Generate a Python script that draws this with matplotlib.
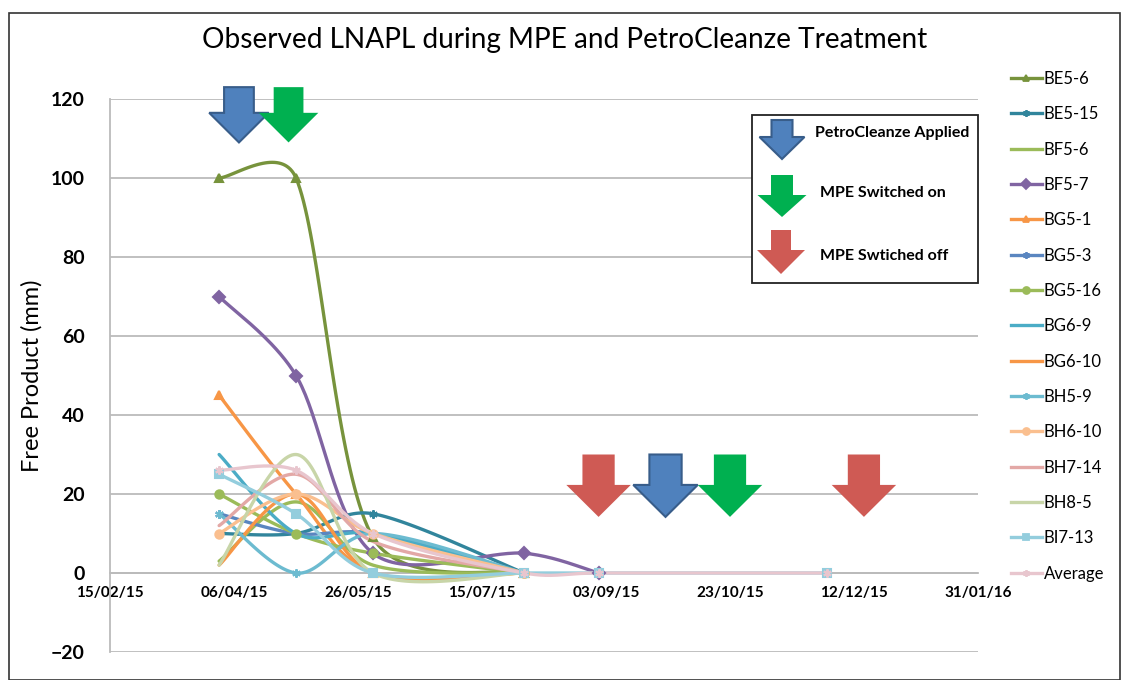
import numpy as np
import matplotlib.pyplot as plt
import matplotlib.dates as mdates
from matplotlib.patches import Polygon, Rectangle
from matplotlib.lines import Line2D

plt.rcParams['font.family'] = ['Lato', 'DejaVu Sans']

# sampling dates
dates = ['2015-03-31', '2015-05-01', '2015-06-01', '2015-08-01', '2015-08-31', '2015-12-01']

names = ['BE5-6', 'BE5-15', 'BF5-6', 'BF5-7', 'BG5-1', 'BG5-3', 'BG5-16', 'BG6-9',
         'BG6-10', 'BH5-9', 'BH6-10', 'BH7-14', 'BH8-5', 'BI7-13', 'Average']

# free product (mm) per well, one value per sampling date
be5_6 = [100, 100, 9, 0]
be5_15 = [10, 10, 15, 0]
bf5_6 = [3, 18, 2, 0]
bf5_7 = [70, 50, 5, 5, 0]
bg5_1 = [45, 20, 0, 0]
bg5_3 = [15, 10, 10, 0]
bg5_16 = [20, 10, 5, 0]
bg6_9 = [30, 10, 10, 0]
bg6_10 = [2, 20, 0, 0]
bh5_9 = [15, 0, 10, 0]
bh6_10 = [10, 20, 10, 0]
bh7_14 = [12, 25, 8, 0]
bh8_5 = [2, 30, 0, 0]
bi7_13 = [25, 15, 0, 0, 0, 0]
average = [26, 26, 10, 0, 0, 0]

values = [be5_6, be5_15, bf5_6, bf5_7, bg5_1, bg5_3, bg5_16, bg6_9,
          bg6_10, bh5_9, bh6_10, bh7_14, bh8_5, bi7_13, average]

colors = ['#77933C', '#31859C', '#9BBB59', '#8064A2', '#F79646', '#5A86C0', '#9BBB59', '#4BACC6',
          '#F79646', '#6CBBD0', '#FABF8F', '#E3A8A6', '#C8D5A8', '#93CDDD', '#E8C6CE']
asterisk = (6, 2, 0)
markers = ['^', asterisk, None, 'D', '^', asterisk, 'o', None,
           None, asterisk, 'o', None, None, 's', asterisk]

# treatment events: (date, kind)
top_events = [('2015-04-08', 'petro'), ('2015-04-28', 'on')]
bottom_events = [('2015-08-31', 'off'), ('2015-09-27', 'petro'),
                 ('2015-10-23', 'on'), ('2015-12-16', 'off')]
event_style = {'petro': ('#4F81BD', '#385D8A'), 'on': ('#00B050', 'none'), 'off': ('#CF5A54', 'none')}

xnum = mdates.date2num(np.array(dates, dtype='datetime64[D]'))

# approximate pixel scale, used so the smoothing behaves like the spreadsheet's
PX_DAY, PX_UNIT = 2.48, 3.95


def smooth(xs, ys, n=40):
    pts = np.column_stack([np.asarray(xs) * PX_DAY, np.asarray(ys) * PX_UNIT]).astype(float)
    m = len(pts)
    seglen = [np.hypot(*(pts[i + 1] - pts[i])) for i in range(m - 1)]
    out = []
    for i in range(m - 1):
        p0 = pts[max(i - 1, 0)]
        p1 = pts[i]
        p2 = pts[i + 1]
        p3 = pts[min(i + 2, m - 1)]
        L = seglen[i]
        # tangents scaled by relative segment lengths
        lp = seglen[i - 1] if i > 0 else L
        ln = seglen[i + 1] if i + 1 < m - 1 else L
        f1 = min(1.0, (2 * L / (lp + L)) ** 0.5)
        f2 = min(1.0, (2 * L / (ln + L)) ** 0.5)
        c1 = p1 + (p2 - p0) / 6 * f1
        c2 = p2 - (p3 - p1) / 6 * f2
        t = np.linspace(0, 1, n)[:, None]
        seg = (1 - t) ** 3 * p1 + 3 * (1 - t) ** 2 * t * c1 + 3 * (1 - t) * t ** 2 * c2 + t ** 3 * p2
        out.append(seg if i == 0 else seg[1:])
    res = np.vstack(out)
    return res[:, 0] / PX_DAY, res[:, 1] / PX_UNIT


def arrow_pts(cx, top, head_top, tip, shaft_hw, head_hw):
    return [(cx - shaft_hw, top), (cx + shaft_hw, top), (cx + shaft_hw, head_top),
            (cx + head_hw, head_top), (cx, tip), (cx - head_hw, head_top), (cx - shaft_hw, head_top)]


W, H = 1130, 680
fig = plt.figure(figsize=(W / 100, H / 100), dpi=100)
ax = fig.add_axes([110 / W, 1 - 652 / H, 868 / W, 553 / H])

for name, vals, c, m in zip(names, values, colors, markers):
    xs = xnum[:len(vals)]
    cx_, cy_ = smooth(xs, vals)
    ax.plot(cx_, cy_, color=c, lw=2.4, solid_capstyle='round', zorder=3)
    if m is not None:
        ax.plot(xs, vals, ls='none', marker=m, color=c, ms=6, mew=1.5, zorder=4)

ax.set_xlim(mdates.date2num(np.datetime64('2015-02-15')), mdates.date2num(np.datetime64('2016-01-31')))
ax.set_ylim(-20, 120)
xt = mdates.date2num(np.arange(np.datetime64('2015-02-15'), np.datetime64('2016-02-01'), 50))
ax.set_xticks(xt)
ax.xaxis.set_major_formatter(mdates.DateFormatter('%d/%m/%y'))
ax.set_yticks(np.arange(-20, 121, 20))
ax.grid(axis='y', color='#BBBBBB', lw=1.3)
ax.set_axisbelow(True)
for s in ['top', 'right']:
    ax.spines[s].set_visible(False)
ax.spines['bottom'].set_position(('data', 0))
ax.spines['bottom'].set_color('#BBBBBB')
ax.spines['left'].set_color('#BBBBBB')
ax.spines['bottom'].set_linewidth(1.3)
ax.spines['left'].set_linewidth(1.3)
ax.tick_params(axis='x', length=0, pad=9, labelsize=11)
ax.tick_params(axis='y', length=0, pad=18, labelsize=14)
for lab in ax.get_xticklabels() + ax.get_yticklabels():
    lab.set_fontweight('bold')
ax.set_ylabel('Free Product (mm)', fontsize=17, labelpad=6)

# event arrows on the chart
for d, kind in top_events:
    fc, ec = event_style[kind]
    cx = mdates.date2num(np.datetime64(d))
    ax.add_patch(Polygon(arrow_pts(cx, 123, 116.5, 109, 6, 12), closed=True, fc=fc, ec=ec,
                         lw=1.5, clip_on=False, zorder=6))
for d, kind in bottom_events:
    fc, ec = event_style[kind]
    cx = mdates.date2num(np.datetime64(d))
    ax.add_patch(Polygon(arrow_pts(cx, 30, 22.3, 14.2, 6.5, 13), closed=True, fc=fc, ec=ec,
                         lw=1.5, clip_on=False, zorder=6))

fig.text(565 / W, 1 - 40 / H, 'Observed LNAPL during MPE and PetroCleanze Treatment',
         ha='center', va='center', fontsize=20.2)


# key box
def fig_arrow(cx, top, head_top, tip, shw, hhw, kind):
    fc, ec = event_style[kind]
    pts = [(x / W, 1 - y / H) for x, y in arrow_pts(cx, top, head_top, tip, shw, hhw)]
    fig.add_artist(Polygon(pts, closed=True, fc=fc, ec=ec, lw=1.5, transform=fig.transFigure, zorder=8))


fig.add_artist(Rectangle((752 / W, 1 - 283 / H), 226 / W, 168 / H, transform=fig.transFigure,
                         fc='white', ec='#222222', lw=1.3, zorder=7))
fig_arrow(782, 120, 137, 159, 10.5, 22.5, 'petro')
fig_arrow(782, 175, 195, 217, 11, 24.5, 'on')
fig_arrow(781, 230, 250, 274, 10, 24, 'off')
fig.text(815 / W, 1 - 133 / H, 'PetroCleanze Applied', fontsize=11.5, fontweight='bold', va='center', zorder=9)
fig.text(820 / W, 1 - 193 / H, 'MPE Switched on', fontsize=11.5, fontweight='bold', va='center', zorder=9)
fig.text(820 / W, 1 - 256 / H, 'MPE Swtiched off', fontsize=11.5, fontweight='bold', va='center', zorder=9)

# legend
handles = [Line2D([], [], color=c, lw=2.4, marker=m, ms=5, mew=1.3) for c, m in zip(colors, markers)]
fig.legend(handles, names, loc='upper left', bbox_to_anchor=(1011 / W, 1 - 71 / H),
           frameon=False, fontsize=12, handlelength=1.85, handletextpad=0.1,
           labelspacing=1.16, borderaxespad=0, borderpad=0)

# outer border
fig.add_artist(Rectangle((9 / W, 0), 1111 / W, 1 - 13 / H, transform=fig.transFigure,
                         fill=False, ec='#333333', lw=1.2))

fig.savefig('out.png', dpi=100)
